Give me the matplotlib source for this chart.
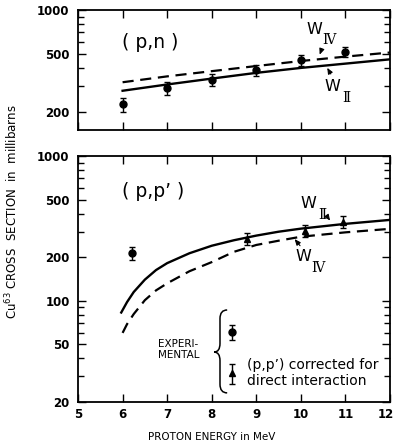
import numpy as np
import matplotlib
matplotlib.use("Agg")
import matplotlib.pyplot as plt
from matplotlib.ticker import FixedLocator, NullFormatter, FuncFormatter
from matplotlib.path import Path
from matplotlib.patches import PathPatch
from matplotlib.transforms import ScaledTranslation

plt.rcParams['font.family'] = ['DejaVu Sans']

# (p,n) measured cross sections
E_pn = [6, 7, 8, 9, 10, 11]
sigma_pn = [225, 290, 333, 385, 451, 518]
err_pn = [25, 28, 30, 35, 40, 40]

# (p,n) calculated curves
E_pn_curve = [6, 7, 8, 9, 10, 11, 12]
pn_W_II = [279, 308, 338, 370, 400, 428, 458]
pn_W_IV = [319, 350, 380, 412, 446, 478, 510]

# (p,p') measured: raw (circle) and corrected for direct interaction (triangles)
E_pp_raw = [6.2]
sigma_pp_raw = [213]
err_pp_raw = [22]
E_pp_corr = [8.8, 10.1, 10.95]
sigma_pp_corr = [268, 305, 352]
err_pp_corr = [27, 30, 35]

# (p,p') calculated curves
E_pp_II = [5.97, 6.1, 6.25, 6.5, 6.75, 7.0, 7.5, 8.0, 8.5, 9.0, 9.5, 10, 11, 12]
pp_W_II = [83, 98, 115, 140, 163, 182, 213, 240, 262, 282, 300, 315, 340, 362]
E_pp_IV = [6.0, 6.1, 6.25, 6.5, 6.75, 7.0, 7.5, 8.0, 8.5, 9.0, 9.5, 10, 11, 12]
pp_W_IV = [60, 69, 81, 101, 118, 132, 160, 185, 218, 243, 260, 277, 297, 314]

# key samples
key_E = 8.45
key_circle = (61, 7)
key_triangle = (31.8, 5)

fig = plt.figure(figsize=(3.96, 4.47), dpi=100)
ax1 = fig.add_axes([0.197, 0.709, 0.788, 0.269])
ax2 = fig.add_axes([0.197, 0.1007, 0.788, 0.5503])

fmt = FuncFormatter(lambda v, p: f"{int(v)}")


def style_axis(ax, majors):
    ax.set_yscale('log')
    ax.set_xlim(5, 12)
    ax.set_xticks(range(5, 13))
    ax.yaxis.set_major_locator(FixedLocator(majors))
    ax.yaxis.set_major_formatter(fmt)
    minors = [m * 10 ** d for d in range(1, 3) for m in range(1, 10)] + [1000]
    ax.yaxis.set_minor_locator(FixedLocator([v for v in minors if v not in majors]))
    ax.yaxis.set_minor_formatter(NullFormatter())
    ax.tick_params(which='both', direction='in', top=True, right=True, width=1.0)
    ax.tick_params(which='major', length=6)
    ax.tick_params(which='minor', length=4)
    ax.tick_params(axis='y', which='major', labelsize=8.5, pad=6)
    for lab in ax.get_yticklabels():
        lab.set_fontweight('bold')
    for s in ax.spines.values():
        s.set_linewidth(1.3)


def w_label(ax, xy, sub, tail, head):
    ax.text(xy[0], xy[1], 'W', fontsize=11.5, ha='center', va='center')
    ax.annotate(sub, xy, xytext=(10.5, -8), textcoords='offset points',
                fontsize=10, ha='center', va='center', family='DejaVu Serif')
    ax.annotate('', xy=head, xytext=tail,
                arrowprops=dict(arrowstyle='-|>,head_length=0.35,head_width=0.15',
                                lw=0.8, color='black'))


# (p,n) panel
style_axis(ax1, [200, 500, 1000])
ax1.set_ylim(150, 1000)
ax1.tick_params(axis='x', labelbottom=False)
ax1.plot(E_pn_curve, pn_W_II, color='black', lw=1.7)
ax1.plot(E_pn_curve, pn_W_IV, color='black', lw=1.6, dashes=(5, 3))
ax1.errorbar(E_pn, sigma_pn, yerr=err_pn, fmt='o', color='black', ms=5,
             capsize=2.2, elinewidth=1, capthick=1)
ax1.text(5.99, 600, '( p,n )', fontsize=13.5, ha='left', va='center')
w_label(ax1, (10.31, 738), 'Ⅳ', (10.49, 563), (10.4, 473))
w_label(ax1, (10.7, 296), 'Ⅱ', (10.7, 350), (10.56, 416))

# (p,p') panel
style_axis(ax2, [20, 50, 100, 200, 500, 1000])
ax2.set_ylim(20, 1000)
ax2.xaxis.set_major_formatter(FuncFormatter(lambda v, p: f"{int(v)}"))
ax2.tick_params(axis='x', labelsize=8.5, pad=4)
xlabels = ax2.get_xticklabels()
for lab in xlabels:
    lab.set_fontweight('bold')
# keep the last energy label inside the figure edge
xlabels[-1].set_transform(xlabels[-1].get_transform()
                          + ScaledTranslation(-3 / 72, 0, fig.dpi_scale_trans))
ax2.plot(E_pp_II, pp_W_II, color='black', lw=1.7)
ax2.plot(E_pp_IV, pp_W_IV, color='black', lw=1.6, dashes=(5, 3))
ax2.errorbar(E_pp_raw, sigma_pp_raw, yerr=err_pp_raw, fmt='o', color='black',
             ms=5, capsize=2.2, elinewidth=1, capthick=1)
ax2.errorbar(E_pp_corr, sigma_pp_corr, yerr=err_pp_corr, fmt='^', color='black',
             ms=5, capsize=2.2, elinewidth=1, capthick=1)
ax2.text(5.99, 565, '( p,p’ )', fontsize=13.5, ha='left', va='center')
w_label(ax2, (10.16, 467), 'Ⅱ', (10.58, 386), (10.69, 345))
w_label(ax2, (10.05, 201), 'Ⅳ', (10.02, 232), (9.82, 276))

# key: experimental symbols with brace
ax2.errorbar([key_E], [key_circle[0]], yerr=[key_circle[1]], fmt='o', color='black',
             ms=5, capsize=2.2, elinewidth=1, capthick=1)
ax2.errorbar([key_E], [key_triangle[0]], yerr=[key_triangle[1]], fmt='^', color='black',
             ms=5, capsize=2.2, elinewidth=1, capthick=1)
xa, xm, xt = 0.478, 0.455, 0.436
yt, ymid, yb = 0.374, 0.203, 0.037
verts = [(xa, yt), (xm, yt), (xm, yt - 0.035),
         (xm, ymid + 0.035),
         (xm, ymid), (xt, ymid), (xm, ymid), (xm, ymid - 0.035),
         (xm, yb + 0.035),
         (xm, yb), (xa, yb)]
codes = [Path.MOVETO, Path.CURVE3, Path.CURVE3,
         Path.LINETO,
         Path.CURVE3, Path.CURVE3, Path.CURVE3, Path.CURVE3,
         Path.LINETO,
         Path.CURVE3, Path.CURVE3]
ax2.add_patch(PathPatch(Path(verts, codes), transform=ax2.transAxes,
                        fill=False, lw=1.1, color='black'))
ax2.text(0.256, 0.215, 'EXPERI-\nMENTAL', transform=ax2.transAxes, fontsize=7.5,
         ha='left', va='center', linespacing=1.1)
ax2.text(0.542, 0.118, '(p,p’) corrected for\ndirect interaction', transform=ax2.transAxes,
         fontsize=10, ha='left', va='center', linespacing=1.25)

fig.text(0.535, 0.022, 'PROTON ENERGY in MeV', fontsize=7.5, ha='center', va='center')
fig.text(0.03, 0.526, 'Cu$^{63}$ CROSS  SECTION  in  millibarns', fontsize=8.5,
         rotation=90, ha='center', va='center')

fig.savefig('out.png', dpi=100)
